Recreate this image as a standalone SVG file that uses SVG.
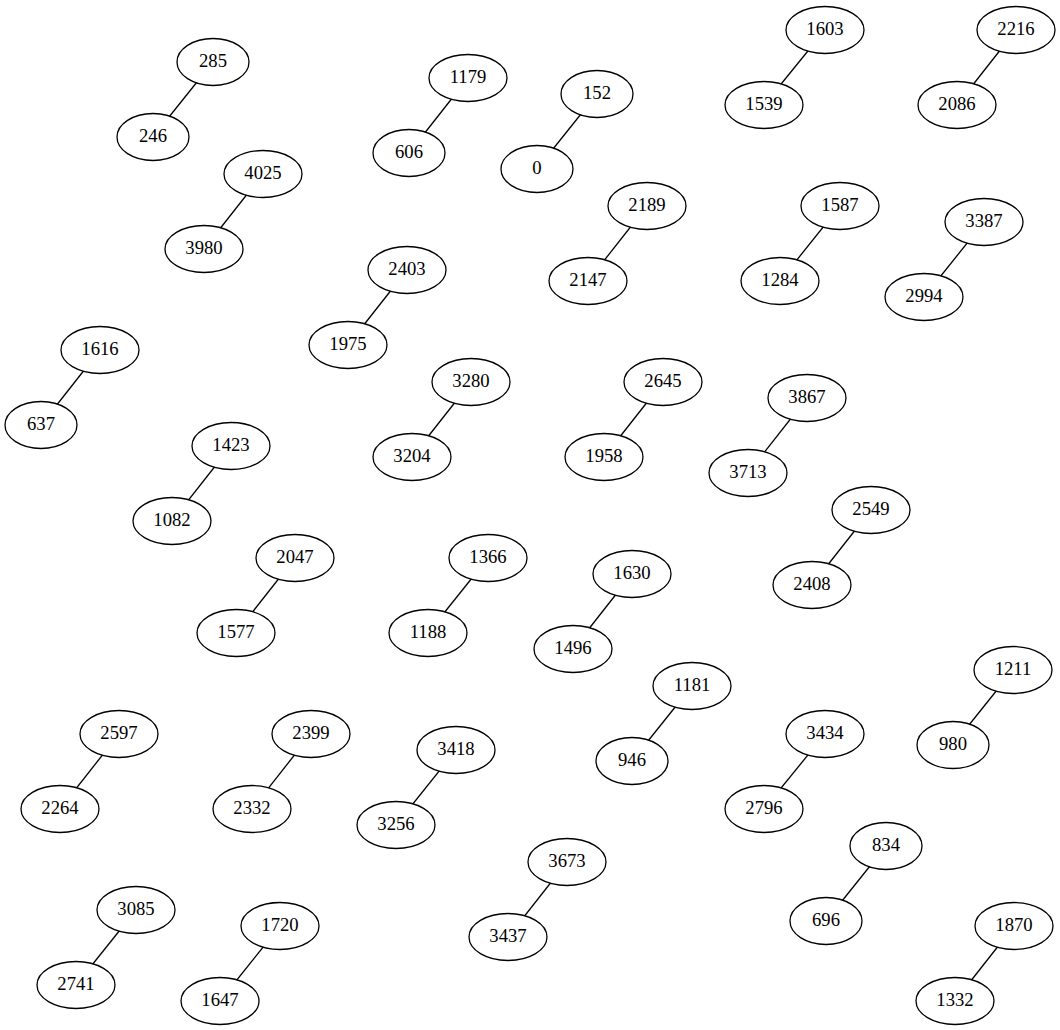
<svg xmlns="http://www.w3.org/2000/svg" width="1060" height="1030" viewBox="0 0 1060 1030">
<style>
.n ellipse{fill:#fff;stroke:#000;stroke-width:1.3}
.n text{font-family:"Liberation Serif","Times New Roman",serif;font-size:18.67px;text-anchor:middle;fill:#000}
#edges line{stroke:#000;stroke-width:1.3}
</style>
<rect width="1060" height="1030" fill="#fff"/>
<g id="edges">
<line x1="213" y1="62" x2="153" y2="137"/>
<line x1="468" y1="78" x2="409" y2="153"/>
<line x1="597" y1="94" x2="537" y2="169"/>
<line x1="825" y1="30" x2="764" y2="105"/>
<line x1="1016" y1="30" x2="957" y2="105"/>
<line x1="263" y1="174" x2="204" y2="249"/>
<line x1="647" y1="206" x2="588" y2="281"/>
<line x1="840" y1="206" x2="780" y2="281"/>
<line x1="984" y1="222" x2="924" y2="297"/>
<line x1="407" y1="270" x2="348" y2="345"/>
<line x1="100" y1="350" x2="41" y2="425"/>
<line x1="471" y1="382" x2="412" y2="457"/>
<line x1="663" y1="382" x2="604" y2="457"/>
<line x1="807" y1="398" x2="748" y2="473"/>
<line x1="231" y1="446" x2="172" y2="521"/>
<line x1="871" y1="510" x2="812" y2="585"/>
<line x1="295" y1="558" x2="236" y2="633"/>
<line x1="488" y1="558" x2="428" y2="633"/>
<line x1="632" y1="574" x2="573" y2="649"/>
<line x1="1013" y1="670" x2="953" y2="745"/>
<line x1="692" y1="686" x2="632" y2="761"/>
<line x1="119" y1="734" x2="60" y2="809"/>
<line x1="311" y1="734" x2="252" y2="809"/>
<line x1="825" y1="734" x2="764" y2="809"/>
<line x1="456" y1="750" x2="396" y2="825"/>
<line x1="886" y1="846" x2="826" y2="921"/>
<line x1="567" y1="862" x2="508" y2="937"/>
<line x1="136" y1="910" x2="76" y2="985"/>
<line x1="280" y1="926" x2="220" y2="1001"/>
<line x1="1014" y1="926" x2="955" y2="1001"/>
</g>
<g id="n285" class="n"><ellipse cx="213" cy="62" rx="36" ry="23.5"/><text x="213" y="67">285</text></g>
<g id="n246" class="n"><ellipse cx="153" cy="137" rx="36" ry="23.5"/><text x="153" y="142">246</text></g>
<g id="n1179" class="n"><ellipse cx="468" cy="78" rx="39" ry="23.5"/><text x="468" y="83">1179</text></g>
<g id="n606" class="n"><ellipse cx="409" cy="153" rx="36" ry="23.5"/><text x="409" y="158">606</text></g>
<g id="n152" class="n"><ellipse cx="597" cy="94" rx="36" ry="23.5"/><text x="597" y="99">152</text></g>
<g id="n0" class="n"><ellipse cx="537" cy="169" rx="36" ry="23.5"/><text x="537" y="174">0</text></g>
<g id="n1603" class="n"><ellipse cx="825" cy="30" rx="39" ry="23.5"/><text x="825" y="35">1603</text></g>
<g id="n1539" class="n"><ellipse cx="764" cy="105" rx="39" ry="23.5"/><text x="764" y="110">1539</text></g>
<g id="n2216" class="n"><ellipse cx="1016" cy="30" rx="39" ry="23.5"/><text x="1016" y="35">2216</text></g>
<g id="n2086" class="n"><ellipse cx="957" cy="105" rx="39" ry="23.5"/><text x="957" y="110">2086</text></g>
<g id="n4025" class="n"><ellipse cx="263" cy="174" rx="39" ry="23.5"/><text x="263" y="179">4025</text></g>
<g id="n3980" class="n"><ellipse cx="204" cy="249" rx="39" ry="23.5"/><text x="204" y="254">3980</text></g>
<g id="n2189" class="n"><ellipse cx="647" cy="206" rx="39" ry="23.5"/><text x="647" y="211">2189</text></g>
<g id="n2147" class="n"><ellipse cx="588" cy="281" rx="39" ry="23.5"/><text x="588" y="286">2147</text></g>
<g id="n1587" class="n"><ellipse cx="840" cy="206" rx="39" ry="23.5"/><text x="840" y="211">1587</text></g>
<g id="n1284" class="n"><ellipse cx="780" cy="281" rx="39" ry="23.5"/><text x="780" y="286">1284</text></g>
<g id="n3387" class="n"><ellipse cx="984" cy="222" rx="39" ry="23.5"/><text x="984" y="227">3387</text></g>
<g id="n2994" class="n"><ellipse cx="924" cy="297" rx="39" ry="23.5"/><text x="924" y="302">2994</text></g>
<g id="n2403" class="n"><ellipse cx="407" cy="270" rx="39" ry="23.5"/><text x="407" y="275">2403</text></g>
<g id="n1975" class="n"><ellipse cx="348" cy="345" rx="39" ry="23.5"/><text x="348" y="350">1975</text></g>
<g id="n1616" class="n"><ellipse cx="100" cy="350" rx="39" ry="23.5"/><text x="100" y="355">1616</text></g>
<g id="n637" class="n"><ellipse cx="41" cy="425" rx="36" ry="23.5"/><text x="41" y="430">637</text></g>
<g id="n3280" class="n"><ellipse cx="471" cy="382" rx="39" ry="23.5"/><text x="471" y="387">3280</text></g>
<g id="n3204" class="n"><ellipse cx="412" cy="457" rx="39" ry="23.5"/><text x="412" y="462">3204</text></g>
<g id="n2645" class="n"><ellipse cx="663" cy="382" rx="39" ry="23.5"/><text x="663" y="387">2645</text></g>
<g id="n1958" class="n"><ellipse cx="604" cy="457" rx="39" ry="23.5"/><text x="604" y="462">1958</text></g>
<g id="n3867" class="n"><ellipse cx="807" cy="398" rx="39" ry="23.5"/><text x="807" y="403">3867</text></g>
<g id="n3713" class="n"><ellipse cx="748" cy="473" rx="39" ry="23.5"/><text x="748" y="478">3713</text></g>
<g id="n1423" class="n"><ellipse cx="231" cy="446" rx="39" ry="23.5"/><text x="231" y="451">1423</text></g>
<g id="n1082" class="n"><ellipse cx="172" cy="521" rx="39" ry="23.5"/><text x="172" y="526">1082</text></g>
<g id="n2549" class="n"><ellipse cx="871" cy="510" rx="39" ry="23.5"/><text x="871" y="515">2549</text></g>
<g id="n2408" class="n"><ellipse cx="812" cy="585" rx="39" ry="23.5"/><text x="812" y="590">2408</text></g>
<g id="n2047" class="n"><ellipse cx="295" cy="558" rx="39" ry="23.5"/><text x="295" y="563">2047</text></g>
<g id="n1577" class="n"><ellipse cx="236" cy="633" rx="39" ry="23.5"/><text x="236" y="638">1577</text></g>
<g id="n1366" class="n"><ellipse cx="488" cy="558" rx="39" ry="23.5"/><text x="488" y="563">1366</text></g>
<g id="n1188" class="n"><ellipse cx="428" cy="633" rx="39" ry="23.5"/><text x="428" y="638">1188</text></g>
<g id="n1630" class="n"><ellipse cx="632" cy="574" rx="39" ry="23.5"/><text x="632" y="579">1630</text></g>
<g id="n1496" class="n"><ellipse cx="573" cy="649" rx="39" ry="23.5"/><text x="573" y="654">1496</text></g>
<g id="n1211" class="n"><ellipse cx="1013" cy="670" rx="39" ry="23.5"/><text x="1013" y="675">1211</text></g>
<g id="n980" class="n"><ellipse cx="953" cy="745" rx="36" ry="23.5"/><text x="953" y="750">980</text></g>
<g id="n1181" class="n"><ellipse cx="692" cy="686" rx="39" ry="23.5"/><text x="692" y="691">1181</text></g>
<g id="n946" class="n"><ellipse cx="632" cy="761" rx="36" ry="23.5"/><text x="632" y="766">946</text></g>
<g id="n2597" class="n"><ellipse cx="119" cy="734" rx="39" ry="23.5"/><text x="119" y="739">2597</text></g>
<g id="n2264" class="n"><ellipse cx="60" cy="809" rx="39" ry="23.5"/><text x="60" y="814">2264</text></g>
<g id="n2399" class="n"><ellipse cx="311" cy="734" rx="39" ry="23.5"/><text x="311" y="739">2399</text></g>
<g id="n2332" class="n"><ellipse cx="252" cy="809" rx="39" ry="23.5"/><text x="252" y="814">2332</text></g>
<g id="n3434" class="n"><ellipse cx="825" cy="734" rx="39" ry="23.5"/><text x="825" y="739">3434</text></g>
<g id="n2796" class="n"><ellipse cx="764" cy="809" rx="39" ry="23.5"/><text x="764" y="814">2796</text></g>
<g id="n3418" class="n"><ellipse cx="456" cy="750" rx="39" ry="23.5"/><text x="456" y="755">3418</text></g>
<g id="n3256" class="n"><ellipse cx="396" cy="825" rx="39" ry="23.5"/><text x="396" y="830">3256</text></g>
<g id="n834" class="n"><ellipse cx="886" cy="846" rx="36" ry="23.5"/><text x="886" y="851">834</text></g>
<g id="n696" class="n"><ellipse cx="826" cy="921" rx="36" ry="23.5"/><text x="826" y="926">696</text></g>
<g id="n3673" class="n"><ellipse cx="567" cy="862" rx="39" ry="23.5"/><text x="567" y="867">3673</text></g>
<g id="n3437" class="n"><ellipse cx="508" cy="937" rx="39" ry="23.5"/><text x="508" y="942">3437</text></g>
<g id="n3085" class="n"><ellipse cx="136" cy="910" rx="39" ry="23.5"/><text x="136" y="915">3085</text></g>
<g id="n2741" class="n"><ellipse cx="76" cy="985" rx="39" ry="23.5"/><text x="76" y="990">2741</text></g>
<g id="n1720" class="n"><ellipse cx="280" cy="926" rx="39" ry="23.5"/><text x="280" y="931">1720</text></g>
<g id="n1647" class="n"><ellipse cx="220" cy="1001" rx="39" ry="23.5"/><text x="220" y="1006">1647</text></g>
<g id="n1870" class="n"><ellipse cx="1014" cy="926" rx="39" ry="23.5"/><text x="1014" y="931">1870</text></g>
<g id="n1332" class="n"><ellipse cx="955" cy="1001" rx="39" ry="23.5"/><text x="955" y="1006">1332</text></g>
</svg>
